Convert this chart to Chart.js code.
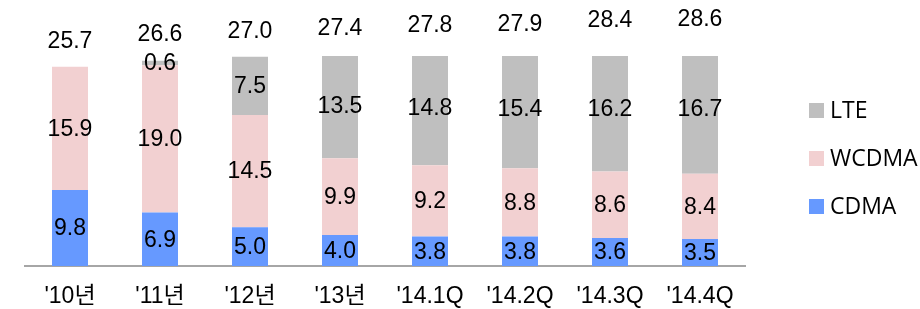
<!DOCTYPE html>
<html>
<head>
<meta charset="utf-8">
<script src="https://cdn.jsdelivr.net/npm/chart.js@4"></script>
<style>
  body { margin: 0; background: #fff; }
  #wrap { width: 920px; height: 309px; position: relative; }
</style>
</head>
<body>
<div id="wrap"><canvas id="subsChart"></canvas></div>
<script>
// subscribers by network type
const periods = ["'10년", "'11년", "'12년", "'13년", "'14.1Q", "'14.2Q", "'14.3Q", "'14.4Q"];
const cdma = [9.8, 6.9, 5.0, 4.0, 3.8, 3.8, 3.6, 3.5];
const wcdma = [15.9, 19.0, 14.5, 9.9, 9.2, 8.8, 8.6, 8.4];
const lte = [0, 0.6, 7.5, 13.5, 14.8, 15.4, 16.2, 16.7];
const totals = [25.7, 26.6, 27.0, 27.4, 27.8, 27.9, 28.4, 28.6];

const numFont = "'Liberation Sans', Arial, 'Noto Sans CJK KR', sans-serif";
Chart.defaults.font.family = numFont;

// segment values + totals above each bar, and the legend on the right
const labelPlugin = {
  id: 'labelPlugin',
  afterDatasetsDraw(chart) {
    const ctx = chart.ctx;
    const y = chart.scales.y;
    ctx.save();
    ctx.fillStyle = '#000';
    ctx.font = '23px ' + numFont;
    ctx.textAlign = 'center';
    ctx.textBaseline = 'middle';
    const base = periods.map(() => 0);
    chart.data.datasets.forEach((ds, i) => {
      const meta = chart.getDatasetMeta(i);
      meta.data.forEach((bar, j) => {
        const v = ds.data[j];
        if (v) {
          const mid = y.getPixelForValue(base[j] + v / 2);
          ctx.fillText(v.toFixed(1), bar.x, mid + 1);
        }
        base[j] += v;
      });
    });
    const m0 = chart.getDatasetMeta(0);
    totals.forEach((t, j) => {
      ctx.fillText(t.toFixed(1), m0.data[j].x, y.getPixelForValue(t) - 25);
    });
    ctx.restore();
  },
  afterDraw(chart) {
    const ctx = chart.ctx;
    const items = chart.data.datasets.slice().reverse();
    ctx.save();
    ctx.font = '23px "Open Sans", "Noto Sans", sans-serif';
    ctx.textBaseline = 'middle';
    ctx.textAlign = 'left';
    items.forEach((ds, k) => {
      const cy = 110 + k * 48;
      ctx.fillStyle = ds.backgroundColor;
      ctx.fillRect(809, cy - 7, 15, 15);
      ctx.fillStyle = '#000';
      ctx.fillText(ds.label, 830, cy + 1);
    });
    ctx.restore();
  }
};

new Chart(document.getElementById('subsChart').getContext('2d'), {
  type: 'bar',
  data: {
    labels: periods,
    datasets: [
      { label: 'CDMA', data: cdma, backgroundColor: '#6699FF' },
      { label: 'WCDMA', data: wcdma, backgroundColor: '#F2D0D1' },
      { label: 'LTE', data: lte, backgroundColor: '#BFBFBF' }
    ]
  },
  options: {
    responsive: true,
    maintainAspectRatio: false,
    animation: false,
    layout: { padding: { left: 25, right: 175, top: 56, bottom: 0 } },
    datasets: {
      bar: { barPercentage: 0.4, categoryPercentage: 1.0 }
    },
    plugins: {
      legend: { display: false },
      tooltip: { enabled: false }
    },
    scales: {
      x: {
        stacked: true,
        grid: { display: false, drawTicks: false },
        border: { display: true, color: '#A6A6A6', width: 2 },
        ticks: { color: '#000', padding: 17, maxRotation: 0, autoSkip: false, font: { size: 23 } },
        afterFit(scale) { scale.height = 43; }
      },
      y: {
        stacked: true,
        display: false,
        min: 0,
        max: 27.1
      }
    }
  },
  plugins: [labelPlugin]
});
</script>
</body>
</html>
